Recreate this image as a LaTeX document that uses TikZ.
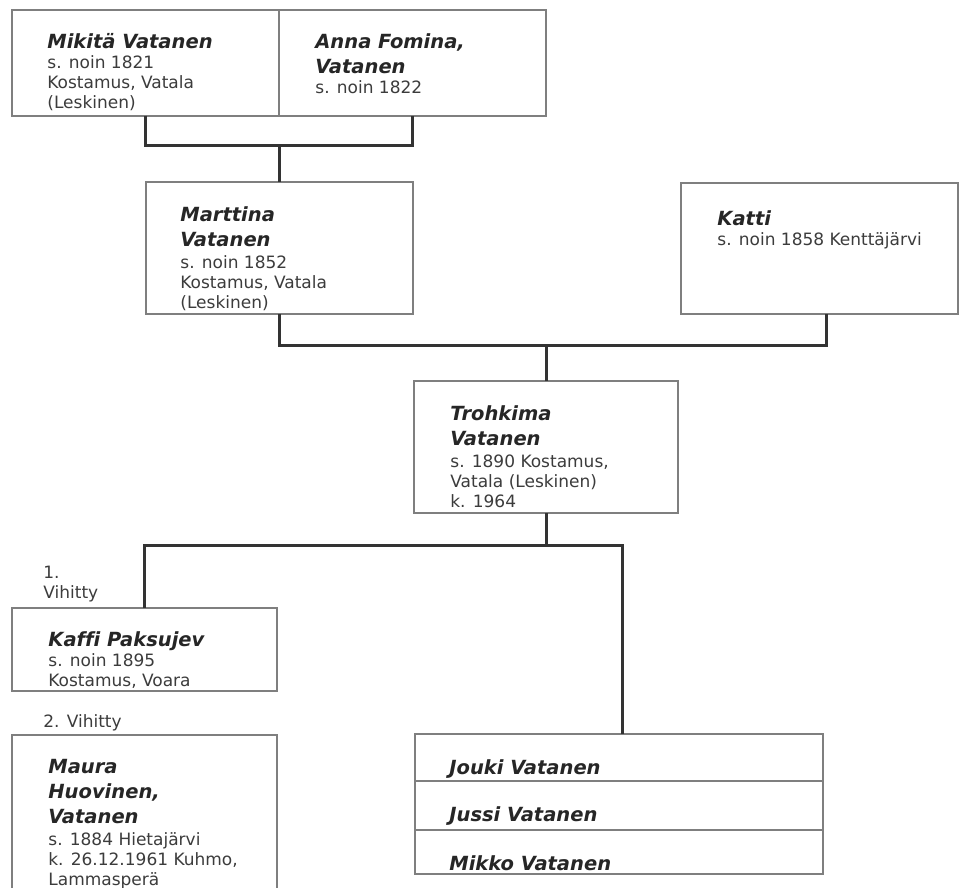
\documentclass[tikz,border=0pt]{standalone}
\usepackage{fontspec}
\setmainfont{DejaVu Sans}[Ligatures=NoCommon]
\usetikzlibrary{positioning}
\definecolor{reuna}{HTML}{7F7F7F}
\definecolor{viiva}{HTML}{333333}
\definecolor{teksti}{HTML}{3C3C3C}
\newcommand{\nimi}[1]{{\fontsize{9.75}{10}\selectfont\bfseries\itshape\color{black!85}#1}}

\begin{document}
\begin{tikzpicture}[x=0.5pt, y=-0.5pt,
    henkilo/.style={draw=reuna, line width=1.4pt, fill=white, inner sep=0pt, outer sep=0pt, anchor=north west},
    tiedot/.style={anchor=north west, inner sep=0pt, align=left, text=teksti, font=\fontsize{8.5}{10}\selectfont},
    linkki/.style={draw=viiva, line width=1.5pt}]
    \useasboundingbox (0,0) rectangle (959,888);

    % Isovanhemmat
    \node[henkilo, minimum width=133.5pt, minimum height=53pt] (mikita) at (12,10) {};
    \node[henkilo, minimum width=133.5pt, minimum height=53pt] (anna) at (279,10) {};
    \node[tiedot] (mikita-t) at ([shift={(35,23)}]mikita.north west)
        {\nimi{Mikitä Vatanen}\\ s. noin 1821\\ Kostamus, Vatala\\ (Leskinen)};
    \node[tiedot] (anna-t) at ([shift={(36,23)}]anna.north west)
        {\nimi{Anna Fomina,}\\[2.5pt] \nimi{Vatanen}\\ s. noin 1822};

    % Vanhemmat
    \node[henkilo, minimum width=133.5pt, minimum height=66pt] (marttina) at (146,182) {};
    \node[henkilo, minimum width=138.5pt, minimum height=65.5pt] (katti) at (681,183) {};
    \node[tiedot] (marttina-t) at ([shift={(34,24)}]marttina.north west)
        {\nimi{Marttina}\\[2.5pt] \nimi{Vatanen}\\[1pt] s. noin 1852\\ Kostamus, Vatala\\ (Leskinen)};
    \node[tiedot] (katti-t) at ([shift={(36,27)}]katti.north west)
        {\nimi{Katti}\\ s. noin 1858 Kenttäjärvi};

    % Trohkima
    \node[henkilo, minimum width=132pt, minimum height=66pt] (trohkima) at (414,381) {};
    \node[tiedot] (trohkima-t) at ([shift={(36,24)}]trohkima.north west)
        {\nimi{Trohkima}\\[2.5pt] \nimi{Vatanen}\\[1pt] s. 1890 Kostamus,\\ Vatala (Leskinen)\\ k. 1964};

    % Puolisot
    \node[henkilo, minimum width=132.5pt, minimum height=41.5pt] (kaffi) at (12,608) {};
    \node[tiedot] (kaffi-t) at ([shift={(36,23)}]kaffi.north west)
        {\nimi{Kaffi Paksujev}\\ s. noin 1895\\ Kostamus, Voara};
    \node[tiedot, anchor=south west] (vihitty1) at ([shift={(31,-6)}]kaffi.north west) {1.\\ Vihitty};

    \node[henkilo, minimum width=132.5pt, minimum height=85pt] (maura) at (12,735) {};
    \node[tiedot] (maura-t) at ([shift={(36,24)}]maura.north west)
        {\nimi{Maura}\\[2.5pt] \nimi{Huovinen,}\\[2.5pt] \nimi{Vatanen}\\[1pt] s. 1884 Hietajärvi\\ k. 26.12.1961 Kuhmo,\\ Lammasperä};
    \node[tiedot, anchor=south west] (vihitty2) at ([shift={(31,-4)}]maura.north west) {2. Vihitty};

    % Lapset
    \node[henkilo, minimum width=204pt, minimum height=23.5pt] (jouki) at (415,734) {};
    \node[henkilo, minimum width=204pt, minimum height=24.5pt, below=0pt of jouki] (jussi) {};
    \node[henkilo, minimum width=204pt, minimum height=22pt, below=0pt of jussi] (mikko) {};
    \foreach \lapsi/\teksti in {jouki/Jouki Vatanen, jussi/Jussi Vatanen, mikko/Mikko Vatanen}
        \node[tiedot] (\lapsi-t) at ([shift={(34,25)}]\lapsi.north west) {\nimi{\teksti}};

    % Viivat
    \coordinate (solmu1) at (279,146);
    \coordinate (solmu2) at (546,345);
    \coordinate (solmu3) at (546,545);
    \draw[linkki] (mikita.south) |- (solmu1) -| (anna.south);
    \draw[linkki] (marttina.north) -- (marttina.north |- solmu1);
    \draw[linkki] (marttina.south) |- (solmu2) -| ([xshift=3.25pt]katti.south);
    \draw[linkki] (trohkima.north) -- (trohkima.north |- solmu2);
    \draw[linkki] (kaffi.north) |- (solmu3) -| ([xshift=1.5pt]jouki.north);
    \draw[linkki] (trohkima.south) -- (trohkima.south |- solmu3);
\end{tikzpicture}
\end{document}
